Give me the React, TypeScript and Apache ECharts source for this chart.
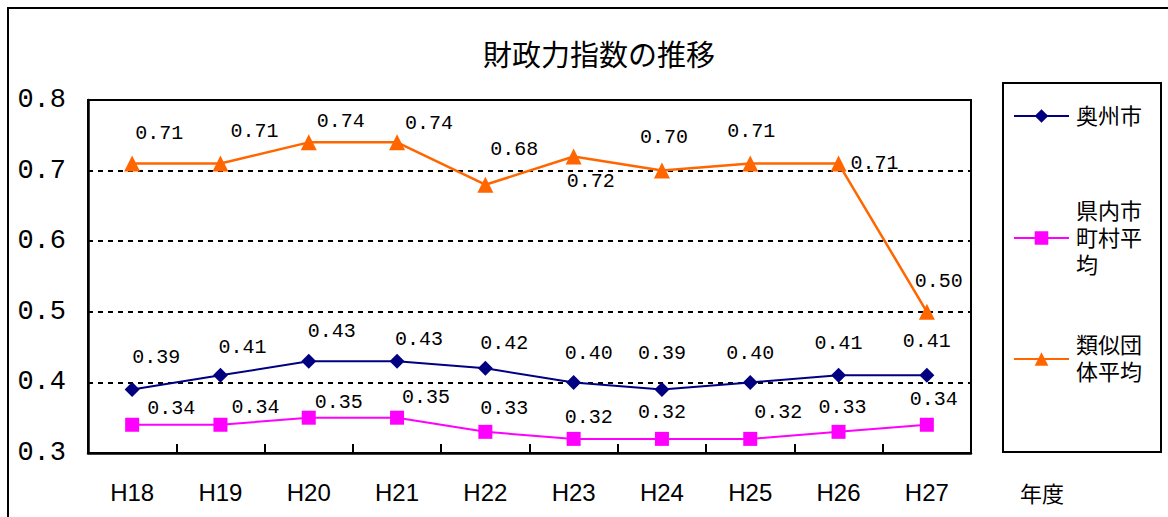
import React, { useEffect, useRef } from "react";
import * as echarts from "echarts";

const categories = ["H18", "H19", "H20", "H21", "H22", "H23", "H24", "H25", "H26", "H27"];
const oshuValues = [0.39, 0.41, 0.43, 0.43, 0.42, 0.4, 0.39, 0.4, 0.41, 0.41];
const prefAvgValues = [0.34, 0.34, 0.35, 0.35, 0.33, 0.32, 0.32, 0.32, 0.33, 0.34];
const similarAvgValues = [0.71, 0.71, 0.74, 0.74, 0.68, 0.72, 0.7, 0.71, 0.71, 0.5];
const seriesNames = ["奥州市", "県内市町村平均", "類似団体平均"];
const yMin = 0.3;
const yMax = 0.8;
const yStep = 0.1;

// label offsets (style only)
const oshuOffsets = [[24, -32], [22, -28], [23, -30], [22, -22], [19, -25], [15, -29], [0, -36], [0, -29], [0, -32], [0, -34]];
const prefOffsets = [[39, -16], [35, -17], [30, -15], [29, -20], [19, -23], [15, -21], [0, -26], [28, -26], [4, -24], [7, -25]];
const similarOffsets = [[27, -30], [34, -32], [32, -21], [32, -19], [29, -35], [17, 25], [2, -33], [1, -32], [36, 0], [12, -30]];

const JP = "'Noto Sans CJK JP', sans-serif";
const LEGEND_FONT = "'Liberation Sans', 'Noto Sans CJK JP', sans-serif";
const MONO = "'Liberation Mono', monospace";

function withOffsets(values: number[], offsets: number[][]) {
  return values.map((v, i) => ({ value: v, label: { offset: offsets[i] } }));
}

export default function App() {
  const ref = useRef<HTMLDivElement>(null);
  useEffect(() => {
    if (!ref.current) return;
    const chart = echarts.init(ref.current, undefined, { renderer: "svg" });
    const labelBase = {
      show: true,
      position: "inside",
      fontFamily: MONO,
      fontSize: 20,
      color: "#000",
      formatter: (p: any) => Number(p.value).toFixed(2),
    };
    const legendText = { fontFamily: LEGEND_FONT, fontSize: 22, lineHeight: 27, color: "#000" };
    chart.setOption({
      animation: false,
      backgroundColor: "#fff",
      title: {
        text: "財政力指数の推移",
        left: 478,
        top: 33,
        textStyle: { fontFamily: JP, fontSize: 29, fontWeight: "normal", color: "#000" },
      },
      grid: {
        left: 88,
        right: 197,
        top: 100,
        bottom: 64,
        show: true,
        borderColor: "#000",
        borderWidth: 2,
        backgroundColor: "transparent",
      },
      legend: [
        {
          data: [seriesNames[0]],
          orient: "vertical",
          left: 1013,
          top: 116 - 13.5,
          padding: 0,
          itemWidth: 55,
          itemHeight: 17,
          textStyle: { ...legendText, padding: [0, 0, 0, 2] },
        },
        {
          data: [seriesNames[1]],
          orient: "vertical",
          left: 1013,
          top: 238 - 67.5,
          padding: 0,
          itemWidth: 55,
          itemHeight: 17,
          formatter: () => "県内市\n町村平\n均",
          textStyle: { ...legendText, padding: [54, 0, 0, 2] },
        },
        {
          data: [seriesNames[2]],
          orient: "vertical",
          left: 1013,
          top: 359 - 40.5,
          padding: 0,
          itemWidth: 55,
          itemHeight: 17,
          formatter: () => "類似団\n体平均",
          textStyle: { ...legendText, padding: [27, 0, 0, 2] },
        },
      ],
      xAxis: {
        type: "category",
        data: categories,
        boundaryGap: true,
        axisLine: { show: true, lineStyle: { color: "#000", width: 2.5 } },
        axisTick: { show: true, inside: true, length: 9, lineStyle: { color: "#000", width: 2 } },
        axisLabel: { fontFamily: "'Liberation Sans', sans-serif", fontSize: 24, color: "#000", margin: 27 },
        splitLine: { show: false },
      },
      yAxis: {
        type: "value",
        min: yMin,
        max: yMax,
        interval: yStep,
        axisLine: { show: true, lineStyle: { color: "#000", width: 2.5 } },
        axisTick: { show: false },
        axisLabel: {
          fontFamily: MONO,
          fontSize: 27,
          color: "#000",
          margin: 22,
          formatter: (v: number) => v.toFixed(1),
        },
        splitLine: { show: true, lineStyle: { color: "#000", width: 2, type: [5, 5] } },
      },
      series: [
        {
          name: seriesNames[0],
          type: "line",
          data: withOffsets(oshuValues, oshuOffsets),
          symbol: "diamond",
          symbolSize: 15,
          itemStyle: { color: "#000080" },
          lineStyle: { color: "#000080", width: 2 },
          label: labelBase,
          z: 4,
        },
        {
          name: seriesNames[1],
          type: "line",
          data: withOffsets(prefAvgValues, prefOffsets),
          symbol: "rect",
          symbolSize: 14,
          itemStyle: { color: "#FF00FF" },
          lineStyle: { color: "#FF00FF", width: 2 },
          label: labelBase,
          z: 3,
        },
        {
          name: seriesNames[2],
          type: "line",
          data: withOffsets(similarAvgValues, similarOffsets),
          symbol: "triangle",
          symbolSize: 16,
          itemStyle: { color: "#FF6600" },
          lineStyle: { color: "#FF6600", width: 2.5 },
          label: labelBase,
          z: 5,
        },
      ],
      graphic: [
        {
          type: "rect",
          shape: { x: 8, y: 8, width: 1200, height: 600 },
          style: { fill: "none", stroke: "#000", lineWidth: 2 },
          silent: true,
        },
        {
          type: "rect",
          shape: { x: 1003, y: 83, width: 158, height: 369 },
          style: { fill: "none", stroke: "#000", lineWidth: 2 },
          silent: true,
        },
        {
          type: "text",
          x: 1020,
          y: 481,
          style: { text: "年度", fontFamily: JP, fontSize: 22, fill: "#000" },
          silent: true,
        },
      ],
    });
    return () => chart.dispose();
  }, []);
  return (
    <div
      ref={ref}
      style={{ position: "absolute", left: 0, top: 0, width: 1168, height: 517 }}
    />
  );
}
